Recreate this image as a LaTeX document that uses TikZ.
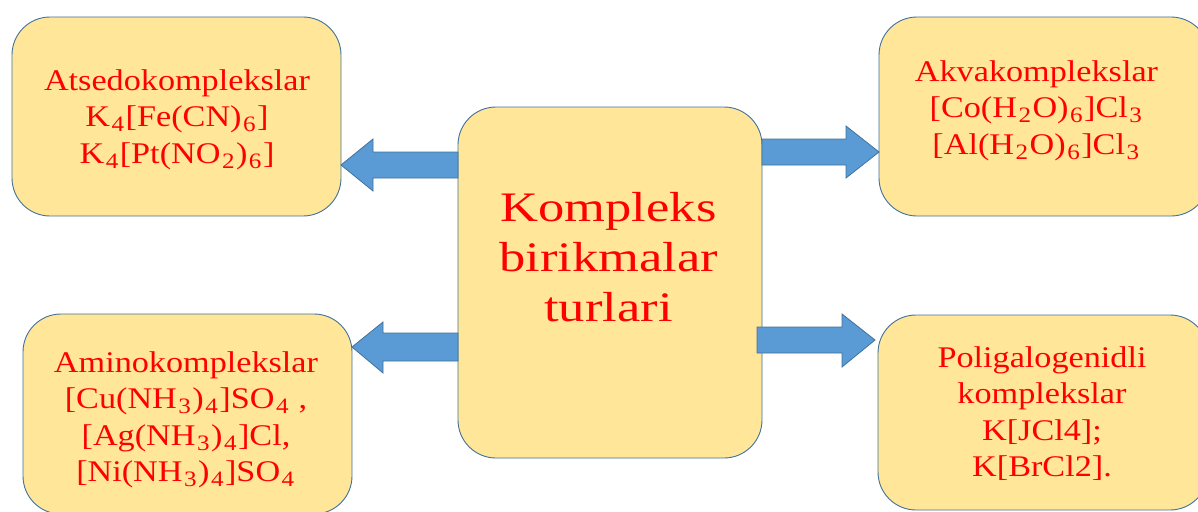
\documentclass[tikz,border=0pt]{standalone}
\usepackage{fontspec}
\setmainfont{Liberation Serif}
\newfontfamily\smfont[FakeStretch=1.14]{Liberation Serif}
\newfontfamily\bgfont[FakeStretch=1.25]{Liberation Serif}
\definecolor{boxfill}{HTML}{FFE699}
\definecolor{boxline}{HTML}{41719C}
\definecolor{arrfill}{HTML}{5B9BD5}
\definecolor{txtred}{HTML}{FF0000}
\tikzset{
  box/.style={draw=boxline, fill=boxfill, line width=0.9pt, rounded corners=38pt,
    rectangle, inner sep=0pt, outer sep=0pt},
  smtxt/.style={text=txtred, align=center, inner sep=0pt, anchor=base,
    font=\smfont\fontsize{30}{36.5}\selectfont},
  bgtxt/.style={text=txtred, align=center, inner sep=0pt, anchor=base,
    font=\bgfont\fontsize{42}{50}\selectfont},
  bluearrow/.style={draw=boxline, fill=arrfill, line width=0.8pt, line join=miter}
}
\newcommand{\sbs}[1]{\kern1.5pt\relax\raisebox{-5pt}{\fontsize{22}{22}\selectfont #1}\kern1.5pt\relax}
\begin{document}
\begin{tikzpicture}[x=1pt,y=-1pt]
\useasboundingbox (0,0) rectangle (1198,511);
% boxes
\node[box, minimum width=329pt, minimum height=199pt] (tl) at (176.5,116.5) {};
\node[box, minimum width=329pt, minimum height=200pt] (bl) at (187.5,414) {};
\node[box, minimum width=330pt, minimum height=199pt] (tr) at (1044,116.5) {};
\node[box, minimum width=330pt, minimum height=195pt] (br) at (1043,412.5) {};
\node[box, minimum width=304pt, minimum height=351pt] (c) at (610,282.5) {};
% arrows
\path[bluearrow] (c.west |- 0,152) -- (373,152) -- (373,139) -- (tl.east |- 0,165)
  -- (373,191) -- (373,178) -- (c.west |- 0,178) -- cycle;
\path[bluearrow] (c.west |- 0,333) -- (383,333) -- (383,322) -- (bl.east |- 0,347)
  -- (383,373) -- (383,361) -- (c.west |- 0,361) -- cycle;
\path[bluearrow] (c.east |- 0,139) -- (846,139) -- (846,126) -- (tr.west |- 0,152)
  -- (846,178) -- (846,165) -- (c.east |- 0,165) -- cycle;
\path[bluearrow] ([xshift=-5pt]c.east |- 0,327) -- (842,327) -- (842,314) -- ([xshift=-3pt]br.west |- 0,340)
  -- (842,367) -- (842,353) -- ([xshift=-5pt]c.east |- 0,353) -- cycle;
% texts (anchor base = baseline of the last line)
\node[smtxt] (tlt) at (177,163) {Atsedokomplekslar\\K\sbs{4}[Fe(CN)\sbs{6}]\\K\sbs{4}[Pt(NO\sbs{2})\sbs{6}]};
\node[smtxt] (trt) at (1036.5,154) {Akvakomplekslar\\{}[Co(H\sbs{2}O)\sbs{6}]Cl\sbs{3}\\ {}[Al(H\sbs{2}O)\sbs{6}]Cl\sbs{3}};
\node[smtxt] (blt) at (186,481.7) {Aminokomplekslar\\ {}[Cu(NH\sbs{3})\sbs{4}]SO\sbs{4} ,\\{}[Ag(NH\sbs{3})\sbs{4}]Cl,\\{}[Ni(NH\sbs{3})\sbs{4}]SO\sbs{4}};
\node[smtxt] (brt) at (1042,476.7) {Poligalogenidli\\komplekslar\\K[JCl4];\\K[BrCl2].};
\node[bgtxt] (ct) at (608.5,321.7) {Kompleks\\birikmalar\\turlari};
\end{tikzpicture}
\end{document}
